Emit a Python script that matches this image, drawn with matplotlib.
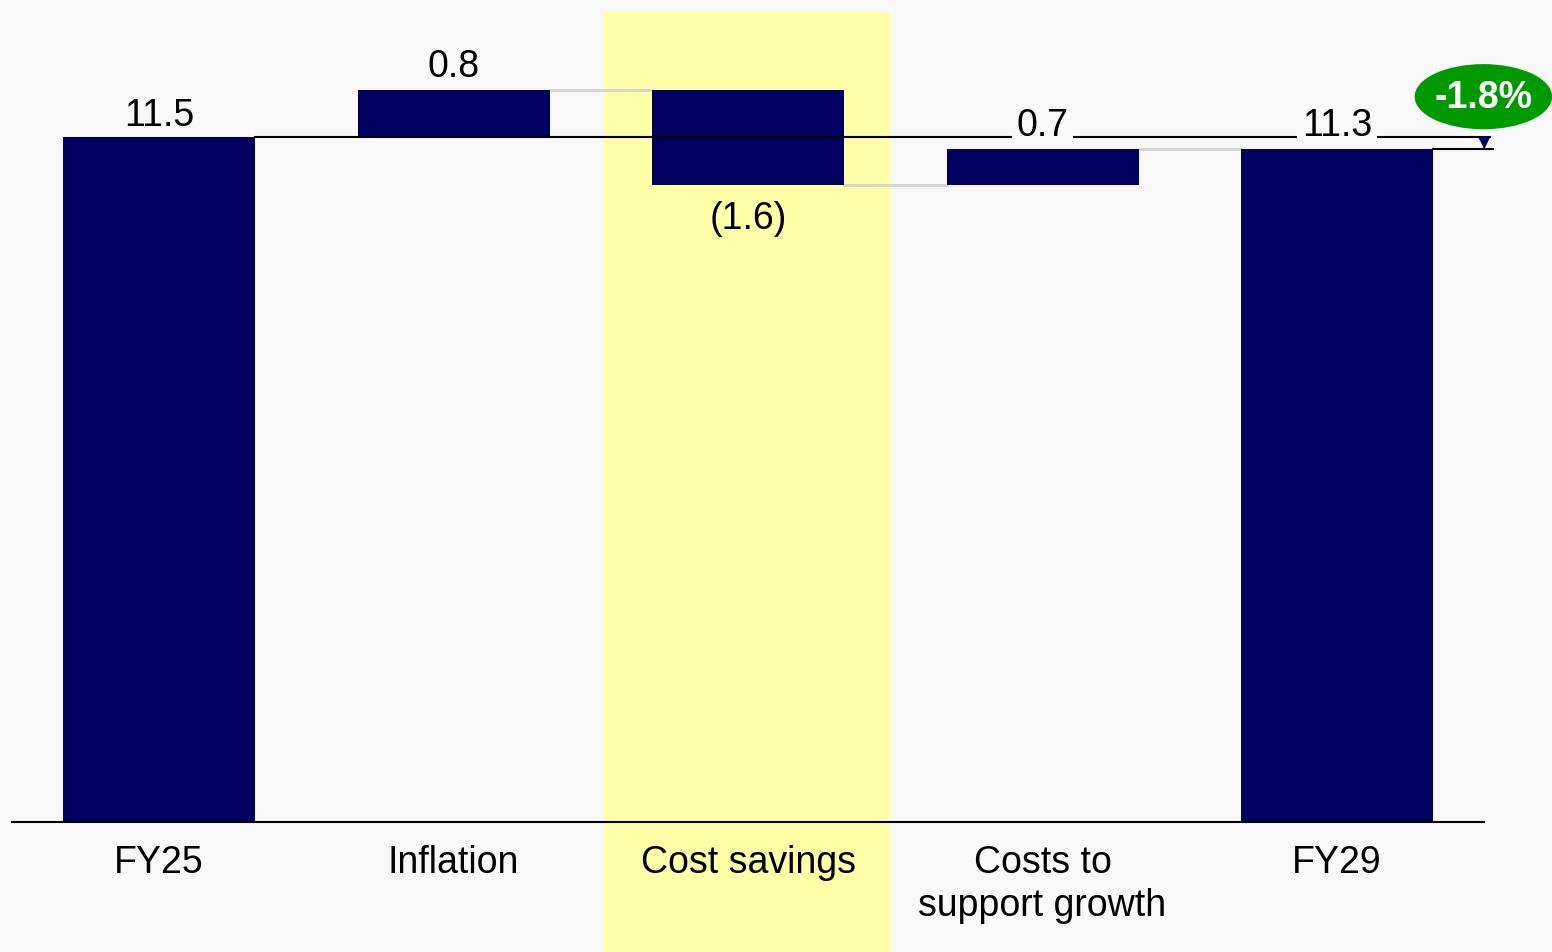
import matplotlib.pyplot as plt
from matplotlib.patches import Ellipse

plt.rcParams['font.family'] = ['Liberation Sans', 'DejaVu Sans']

categories = ['FY25', 'Inflation', 'Cost savings', 'Costs to\nsupport growth', 'FY29']
start_total = 11.5
changes = [0.8, -1.6, 0.7]
end_total = 11.3
labels = ['11.5', '0.8', '(1.6)', '0.7', '11.3']
change_pct = '-1.8%'

navy = '#000060'
bg = '#f8f8f8'
width = 0.652

fig = plt.figure(figsize=(15.52, 9.53), dpi=100, facecolor=bg)
ax = fig.add_axes([0, 0, 1, 1], facecolor=bg)
ax.set_xlim(-0.54, 4.73)
ax.set_ylim(-2.18, 13.82)
ax.axis('off')

# highlight band behind cost savings
ax.axvspan(1.51, 2.48, ymin=0, ymax=(13.61 + 2.18) / 16.0, color='#ffffa8', zorder=0)

# waterfall bars
bottoms = []
tops = []
level = start_total
bottoms.append(0)
tops.append(start_total)
for i, c in enumerate(changes):
    new = level + c
    if i == len(changes) - 1:
        new = end_total
    bottoms.append(min(level, new))
    tops.append(max(level, new))
    level = new
bottoms.append(0)
tops.append(end_total)

x = list(range(len(categories)))
heights = [t - b for t, b in zip(tops, bottoms)]
ax.bar(x, heights, bottom=bottoms, width=width, color=navy, zorder=2)

# grey connectors between floating bars
lev = [start_total]
for c in changes[:-1]:
    lev.append(lev[-1] + c)
lev.append(end_total)
for i in range(1, len(categories) - 1):
    ax.plot([i + width / 2, i + 1 - width / 2], [lev[i], lev[i]], color='#d4d4d4', lw=2, zorder=1)

# reference lines
ax.plot([width / 2, 4.52], [start_total, start_total], color='black', lw=1.5, zorder=3)
ax.plot([4 + width / 2, 4.53], [end_total, end_total], color='black', lw=1.5, zorder=3)
ax.plot([-0.5, 4.5], [0, 0], color='black', lw=1.5, zorder=3)
ax.annotate('', xy=(4.5, end_total), xytext=(4.5, start_total),
            arrowprops=dict(arrowstyle='-|>', color=navy, lw=1, mutation_scale=18, shrinkA=0, shrinkB=0),
            zorder=4)

fs = 27
# value labels
ax.text(0, tops[0] + 0.2, labels[0], ha='center', va='baseline', fontsize=fs, zorder=5)
ax.text(1, tops[1] + 0.22, labels[1], ha='center', va='baseline', fontsize=fs, zorder=5)
ax.text(2, bottoms[2] - 0.26, labels[2], ha='center', va='top', fontsize=fs, zorder=5)
for i in (3, 4):
    ax.text(i, start_total + 0.04, labels[i], ha='center', va='baseline', fontsize=fs, zorder=5,
            bbox=dict(boxstyle='square,pad=0.12', fc=bg, ec='none'))

# category labels
for i, cat in enumerate(categories):
    ax.text(i, -0.37, cat, ha='center', va='top', fontsize=fs, linespacing=1.25, zorder=5)

# change bubble
ax.add_patch(Ellipse((4.497, 12.18), 0.462, 1.07, color='#009900', zorder=5))
ax.text(4.497, 12.18, change_pct, ha='center', va='center', fontsize=fs, fontweight='bold',
        color='white', zorder=6)

fig.savefig('out.png', dpi=100, facecolor=bg)
